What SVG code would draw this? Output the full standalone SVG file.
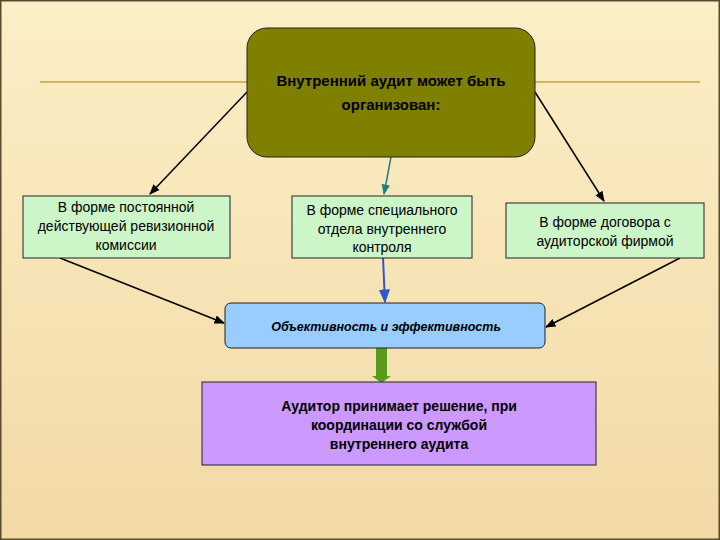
<svg xmlns="http://www.w3.org/2000/svg" width="720" height="540" viewBox="0 0 720 540">
<defs>
<linearGradient id="bg" x1="0" y1="0" x2="0" y2="1"><stop offset="0" stop-color="#fbefc6"/><stop offset="1" stop-color="#f2d9a6"/></linearGradient>
<marker id="ak" viewBox="0 0 10 10" refX="9" refY="5" markerWidth="7" markerHeight="7" orient="auto"><path d="M0,1 L10,5 L0,9 z" fill="#000"/></marker>
<marker id="at" viewBox="0 0 10 10" refX="9" refY="5" markerWidth="7" markerHeight="7" orient="auto"><path d="M0,1 L10,5 L0,9 z" fill="#1f7f7f"/></marker>
<marker id="ab" viewBox="0 0 10 10" refX="9" refY="5" markerWidth="7" markerHeight="7" orient="auto"><path d="M0,1 L10,5 L0,9 z" fill="#3355cc"/></marker>
</defs>
<style>
text{font-family:"Liberation Sans",Arial,sans-serif;fill:#000;text-anchor:middle}
.g{fill:#ccf5c8;stroke:#222;stroke-width:1}
.t{font-size:14px}
.b{font-size:15px;font-weight:bold}
</style>
<rect x="0" y="0" width="720" height="540" fill="url(#bg)" stroke="#5a4a30" stroke-width="3"/>
<line x1="40" y1="82" x2="700" y2="82" stroke="#d9b25a" stroke-width="2"/>
<g id="connectors" fill="none" stroke-width="1.5">
<line x1="247" y1="92" x2="150" y2="194" stroke="#000" marker-end="url(#ak)"/>
<line x1="535" y1="92" x2="604" y2="201" stroke="#000" marker-end="url(#ak)"/>
<line x1="391" y1="157" x2="384" y2="194" stroke="#1f7f7f" marker-end="url(#at)"/>
<line x1="383" y1="258" x2="385" y2="302" stroke="#3355cc" stroke-width="2" marker-end="url(#ab)"/>
<line x1="60" y1="258" x2="224" y2="323" stroke="#000" marker-end="url(#ak)"/>
<line x1="680" y1="258" x2="546" y2="327" stroke="#000" marker-end="url(#ak)"/>
<path d="M376,348 H387 V376 H391 L381.5,383 L372,376 H376 Z" fill="#5a9a1a" stroke="none"/>
</g>
<g id="top"><rect x="247" y="28" width="288" height="129" rx="20" fill="#808000" stroke="#222"/>
<text class="b" x="391" y="86">Внутренний аудит может быть</text><text class="b" x="391" y="110">организован:</text></g>
<g id="left"><rect class="g" x="23" y="196" width="207" height="62"/>
<text class="t" x="126" y="212">В форме постоянной</text><text class="t" x="126" y="231">действующей ревизионной</text><text class="t" x="126" y="250">комиссии</text></g>
<g id="middle"><rect class="g" x="292" y="196" width="180" height="62"/>
<text class="t" x="382" y="215">В форме специального</text><text class="t" x="382" y="234">отдела внутреннего</text><text class="t" x="382" y="252">контроля</text></g>
<g id="right"><rect class="g" x="506" y="203" width="198" height="55"/>
<text class="t" x="605" y="227">В форме договора с</text><text class="t" x="605" y="246">аудиторской фирмой</text></g>
<g id="objective"><rect x="225" y="303" width="320" height="45" rx="6" fill="#99ccff" stroke="#222"/>
<text x="386" y="331" style="font-size:12.5px;font-weight:bold;font-style:italic">Объективность и эффективность</text></g>
<g id="decision"><rect x="202" y="382" width="394" height="83" fill="#cc99ff" stroke="#222"/>
<text class="b" x="399" y="411" style="font-size:14px">Аудитор принимает решение, при</text><text class="b" x="399" y="430" style="font-size:14px">координации со службой</text><text class="b" x="399" y="449" style="font-size:14px">внутреннего аудита</text></g>
</svg>
